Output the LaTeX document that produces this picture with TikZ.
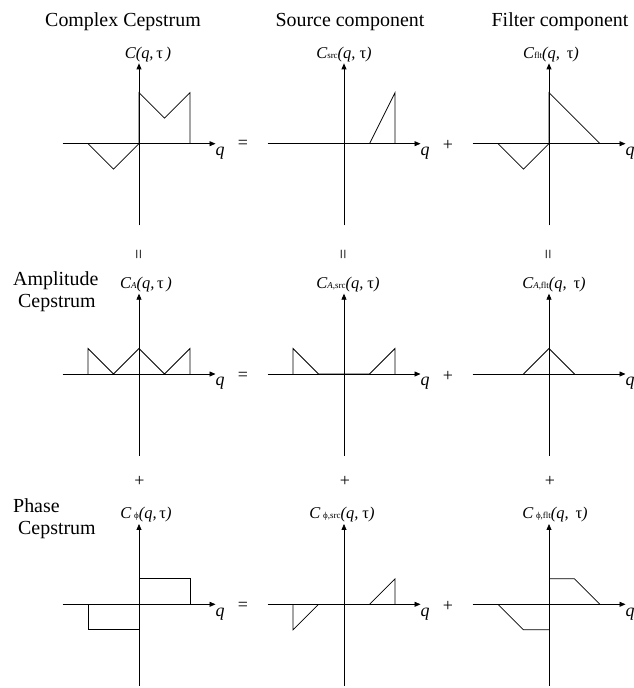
\documentclass[tikz,border=0pt]{standalone}
\usepackage{fontspec}
\setmainfont{Liberation Serif}
\usetikzlibrary{arrows.meta, positioning}

\newcommand{\lo}[1]{{\fontsize{9}{9}\selectfont\upshape #1}}
\newcommand{\tu}{{\upshape τ}}

\tikzset{
  axis/.style={-{Triangle[length=6bp, width=5bp]}, line width=0.75bp},
  curve/.style={line width=0.75bp},
  title/.style={font=\fontsize{20}{22}\selectfont, inner sep=0pt, anchor=base},
  clab/.style={font=\fontsize{16.5}{18}\selectfont\itshape, inner sep=0pt, anchor=base},
  qlab/.style={font=\fontsize{18}{18}\selectfont\itshape, inner sep=0pt, anchor=north west},
  op/.style={font=\fontsize{18}{18}\selectfont, inner sep=0pt},
  panel/.style={shift={#1}, x=25.5bp, y=25.5bp},
  pl/.style={shift={(#1)}, x=25.5bp, y=25.5bp}
}

\begin{document}
\begin{tikzpicture}[x=1bp, y=-1bp]
\useasboundingbox (0,0) rectangle (634,688);

% column titles
\node[title] (ttl1) at (123,26.7) {Complex Cepstrum};
\node[title] (ttl2) at (350,26.7) {Source component};
\node[title] (ttl3) at (560,26.7) {Filter component};

% row titles
\node[title, anchor=base west] (amp) at (13,285) {Amplitude};
\node[title, anchor=base west] (ampc) at (18,307) {Cepstrum};
\node[title, anchor=base west] (pha) at (13,512) {Phase};
\node[title, anchor=base west] (phac) at (18,534) {Cepstrum};

% axes of the nine panels
\foreach \r/\ry in {1/143.7, 2/374, 3/604.3}
  \foreach \c/\cx in {1/139, 2/344, 3/549} {
    \begin{scope}[panel={(\cx,\ry)}]
      \coordinate (o\r\c) at (0,0);
      \draw[axis] (-3,0) -- (3,0);
      \draw[axis] (0,-3.2) -- (0,3.15);
      \node[qlab] (q\r\c) at (3.0,-0.13) {q};
    \end{scope}
  }

% complex cepstrum
\draw[curve, pl=o11] (-2,0) -- (-1,-1) -- (0,0) -- (0,2) -- (1,1) -- (2,2) -- (2,0);
\draw[curve, pl=o12] (1,0) -- (2,2) -- (2,0);
\draw[curve, pl=o13] (-2,0) -- (-1,-1) -- (0,0) -- (0,2) -- (2,0);

% amplitude cepstrum
\draw[curve, pl=o21] (-2,0) -- (-2,1) -- (-1,0) -- (0,1) -- (1,0) -- (2,1) -- (2,0);
\draw[curve, pl=o22] (-2,0) -- (-2,1) -- (-1,0) -- (1,0) -- (2,1) -- (2,0);
\draw[curve, pl=o23] (-1,0) -- (0,1) -- (1,0);

% phase cepstrum
\draw[curve, pl=o31] (-2,0) -- (-2,-1) -- (0,-1) (0,1) -- (2,1) -- (2,0);
\draw[curve, pl=o32] (-2,0) -- (-2,-1) -- (-1,0) (1,0) -- (2,1) -- (2,0);
\draw[curve, pl=o33] (-2,0) -- (-1,-1) -- (0,-1) (0,1) -- (1,1) -- (2,0);

% axis labels
\node[clab] (c11) at (148,58.3) {C(q,\,\tu\,)};
\node[clab] (c12) at (344,58.3) {C\lo{src}(q, \tu)};
\node[clab] (c13) at (551,58.3) {C\lo{flt}(q,\ \,\tu)};
\node[clab] (c21) at (146,288.3) {C\lo{\textit{A}}(q,\,\tu\,)};
\node[clab] (c22) at (348,288.3) {C\lo{\textit{A},src}(q, \tu)};
\node[clab] (c23) at (554,288.3) {C\lo{\textit{A},flt}(q,\ \,\tu)};
\node[clab] (c31) at (146,518.3) {C\,\lo{ϕ}(q,\,\tu)};
\node[clab] (c32) at (342,518.3) {C\,\lo{ϕ,src}(q,\ \tu)};
\node[clab] (c33) at (555,518.3) {C\,\lo{ϕ,flt}(q,\ \,\tu)};

% equals and plus signs
\node[op] (eq1) at (243,144.5) {=};
\node[op] (eq2) at (243,376.5) {=};
\node[op] (eq3) at (243,606) {=};
\node[op] (ad1) at (448,145) {+};
\node[op] (ad2) at (448,376.5) {+};
\node[op] (ad3) at (448,606.5) {+};
\node[op, rotate=90] (veq1) at (140.5,254) {=};
\node[op, rotate=90] (veq2) at (345,254) {=};
\node[op, rotate=90] (veq3) at (550,254) {=};
\node[op] (vad1) at (139.5,481.7) {+};
\node[op] (vad2) at (345,481.7) {+};
\node[op] (vad3) at (550,481.7) {+};
\end{tikzpicture}
\end{document}
